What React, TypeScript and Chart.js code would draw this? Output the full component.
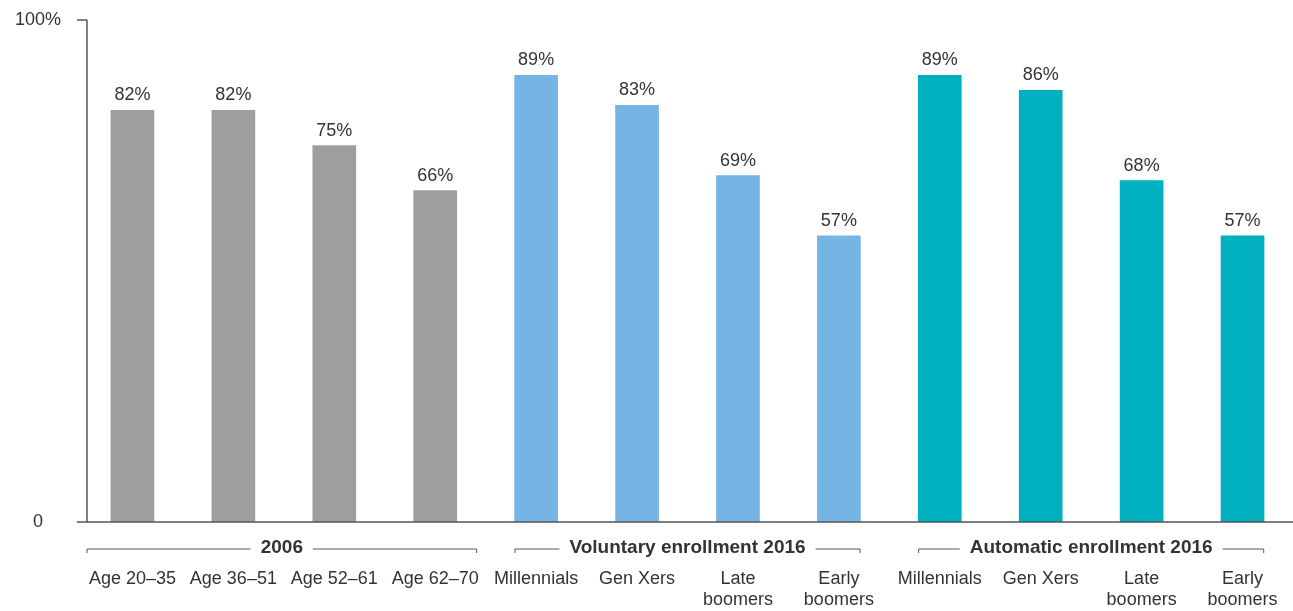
import React, { useEffect, useRef } from "react";
import { Chart, registerables } from "chart.js";

Chart.register(...registerables);

const categories: (string | string[])[] = [
  "Age 20–35", "Age 36–51", "Age 52–61", "Age 62–70",
  "Millennials", "Gen Xers", ["Late", "boomers"], ["Early", "boomers"],
  "Millennials", "Gen Xers", ["Late", "boomers"], ["Early", "boomers"],
];
const values = [82, 82, 75, 66, 89, 83, 69, 57, 89, 86, 68, 57];
const barColors = [
  "#9d9ea0", "#9d9ea0", "#9d9ea0", "#9d9ea0",
  "#74b5e3", "#74b5e3", "#74b5e3", "#74b5e3",
  "#00b0bf", "#00b0bf", "#00b0bf", "#00b0bf",
];
const groupLabels = ["2006", "Voluntary enrollment 2016", "Automatic enrollment 2016"];
const groupFrom = [-0.45, 3.79, 7.79];
const groupTo = [3.41, 7.21, 11.21];
const yTicks = [0, 100];

const FONT = "'Liberation Sans', Arial, sans-serif";
const TEXT = "#333333";
const LINE = "#555555";

const decorPlugin = {
  id: "decor",
  afterDraw(chart: any) {
    const { ctx, chartArea, scales } = chart;
    const x = scales.x;
    const y = scales.y;
    const axisX = chartArea.left + 5;
    ctx.save();
    ctx.strokeStyle = LINE;
    ctx.lineWidth = 1.5;
    ctx.beginPath();
    ctx.moveTo(axisX, y.getPixelForValue(100));
    ctx.lineTo(axisX, y.getPixelForValue(0));
    ctx.stroke();
    ctx.beginPath();
    ctx.moveTo(axisX - 10, y.getPixelForValue(100));
    ctx.lineTo(axisX, y.getPixelForValue(100));
    ctx.stroke();
    ctx.beginPath();
    ctx.moveTo(axisX - 10, y.getPixelForValue(0));
    ctx.lineTo(chartArea.right, y.getPixelForValue(0));
    ctx.stroke();

    ctx.fillStyle = TEXT;
    ctx.font = `18px ${FONT}`;
    ctx.textAlign = "center";
    ctx.textBaseline = "alphabetic";
    const meta = chart.getDatasetMeta(0);
    meta.data.forEach((bar: any, i: number) => {
      ctx.fillText(`${values[i]}%`, bar.x, bar.y - 10);
    });

    const by = y.getPixelForValue(0) + 27;
    ctx.lineWidth = 1;
    ctx.strokeStyle = LINE;
    ctx.font = `bold 19px ${FONT}`;
    ctx.textBaseline = "middle";
    groupLabels.forEach((label, i) => {
      const l = x.getPixelForValue(groupFrom[i]);
      const r = x.getPixelForValue(groupTo[i]);
      const c = (l + r) / 2;
      const w = ctx.measureText(label).width;
      const gap = 10;
      ctx.beginPath();
      ctx.moveTo(l, by + 4);
      ctx.lineTo(l, by);
      ctx.lineTo(c - w / 2 - gap, by);
      ctx.moveTo(c + w / 2 + gap, by);
      ctx.lineTo(r, by);
      ctx.lineTo(r, by + 4);
      ctx.stroke();
      ctx.fillText(label, c, by - 1);
    });
    ctx.restore();
  },
};

export default function App() {
  const ref = useRef<HTMLCanvasElement>(null);
  useEffect(() => {
    if (!ref.current) return;
    const chart = new Chart(ref.current, {
      type: "bar",
      data: {
        labels: categories,
        datasets: [
          {
            data: values,
            backgroundColor: barColors,
            barThickness: 43,
            borderWidth: 0,
          },
        ],
      },
      options: {
        animation: false,
        responsive: false,
        maintainAspectRatio: false,
        layout: { padding: { top: 20, left: 0, right: 0, bottom: 0 } },
        plugins: { legend: { display: false }, tooltip: { enabled: false } },
        scales: {
          x: {
            grid: { display: false, drawTicks: false },
            border: { display: false },
            ticks: {
              color: TEXT,
              font: { family: FONT, size: 18, lineHeight: 1.2 },
              padding: 46,
              maxRotation: 0,
              autoSkip: false,
            },
            afterFit: (s: any) => {
              s.height = 89;
              s.paddingLeft = 0;
              s.paddingRight = 0;
            },
          },
          y: {
            min: 0,
            max: 100,
            afterBuildTicks: (s: any) => {
              s.ticks = yTicks.map((v) => ({ value: v }));
            },
            grid: { display: false, drawTicks: false },
            border: { display: false },
            ticks: {
              color: TEXT,
              font: { family: FONT, size: 18 },
              crossAlign: "center",
              padding: 21,
              callback: (v: any) => (v === 0 ? "0" : `${v}%`),
            },
            afterFit: (s: any) => {
              s.width = 82;
              s.paddingTop = 0;
              s.paddingBottom = 0;
            },
          },
        },
      },
      plugins: [decorPlugin],
    });
    return () => chart.destroy();
  }, []);
  return (
    <div style={{ position: "absolute", left: 0, top: 0, width: 1293, height: 611, background: "#fff" }}>
      <canvas ref={ref} width={1293} height={611} style={{ width: 1293, height: 611 }} />
    </div>
  );
}
